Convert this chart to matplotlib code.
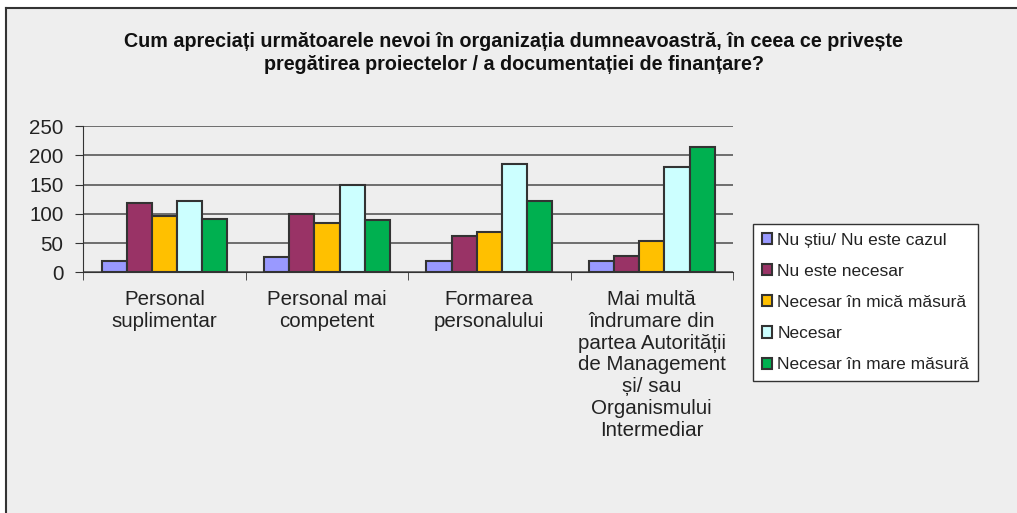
import numpy as np
import matplotlib.pyplot as plt
from matplotlib.patches import Rectangle

plt.rcParams['font.family'] = ['Liberation Sans', 'DejaVu Sans']

categories = ['Personal\nsuplimentar', 'Personal mai\ncompetent', 'Formarea\npersonalului',
              'Mai multă\nîndrumare din\npartea Autorității\nde Management\nși/ sau\nOrganismului\nIntermediar']
series_names = ['Nu știu/ Nu este cazul', 'Nu este necesar', 'Necesar în mică măsură',
                'Necesar', 'Necesar în mare măsură']
nu_stiu = [20, 26, 20, 20]
nu_necesar = [119, 99, 62, 27]
mica_masura = [97, 85, 69, 53]
necesar = [122, 150, 185, 180]
mare_masura = [91, 89, 122, 214]
values = [nu_stiu, nu_necesar, mica_masura, necesar, mare_masura]
colors = ['#9999FF', '#993366', '#FFC000', '#CCFFFF', '#00B050']
title = ('Cum apreciați următoarele nevoi în organizația dumneavoastră, în ceea ce privește\n'
         'pregătirea proiectelor / a documentației de finanțare?')

bg = '#EEEEEE'
fig = plt.figure(figsize=(10.17, 5.13), dpi=100)
fig.patch.set_facecolor('white')

# gray panel with frame on left/top, behind everything
back = fig.add_axes([0, 0, 1, 1], zorder=-1)
back.set_xlim(0, 1017)
back.set_ylim(513, 0)
back.axis('off')
back.add_patch(Rectangle((6, 8), 1100, 600, facecolor=bg, edgecolor='none'))
back.plot([6, 6], [8, 520], color='#333333', lw=1.5)
back.plot([6, 1017], [8, 8], color='#333333', lw=1.5)

ax = fig.add_axes([83.3 / 1017, 1 - 272.3 / 513, (733 - 83.3) / 1017, 146.3 / 513])
ax.set_facecolor(bg)

x = np.arange(len(categories))
w = 0.155
for i, (name, vals, c) in enumerate(zip(series_names, values, colors)):
    ax.bar(x + (i - 2) * w, vals, w, color=c, edgecolor='#333333', linewidth=1.5,
           label=name, zorder=3)

ax.set_xlim(-0.5, len(categories) - 0.5)
ax.set_ylim(0, 250)
ax.set_yticks(range(0, 251, 50))
ax.yaxis.grid(True, color='#4a4a4a', lw=1.1, zorder=0)
ax.set_axisbelow(True)
for s in ['top', 'right']:
    ax.spines[s].set_visible(False)
ax.spines['left'].set_color('#333333')
ax.spines['bottom'].set_color('#333333')
ax.tick_params(axis='y', length=5.8, color='#333333', labelsize=14.8, labelcolor='#222222', pad=8.5)

ax.set_xticks(x)
ax.set_xticklabels(categories, fontsize=14.8, color='#222222', linespacing=1.18)
ax.tick_params(axis='x', which='major', length=0, pad=13)
ax.set_xticks(np.arange(len(categories) + 1) - 0.5, minor=True)
ax.tick_params(axis='x', which='minor', length=6, color='#333333')

fig.text(0.505, 1 - 53 / 513, title, ha='center', va='center', fontsize=14.2,
         fontweight='bold', color='#111111', linespacing=1.25)

leg = ax.legend(loc='upper left', bbox_to_anchor=(753 / 1017, 1 - 224 / 513),
                bbox_transform=fig.transFigure, fontsize=12.5, frameon=True, fancybox=False,
                edgecolor='#333333', facecolor='white', framealpha=1,
                handlelength=0.6, handleheight=0.6, handletextpad=0.3,
                labelspacing=0.93, borderpad=0.5, borderaxespad=0)
leg.get_frame().set_linewidth(1)
for t in leg.get_texts():
    t.set_color('#222222')

fig.savefig('out.png', dpi=100, facecolor=fig.get_facecolor())
